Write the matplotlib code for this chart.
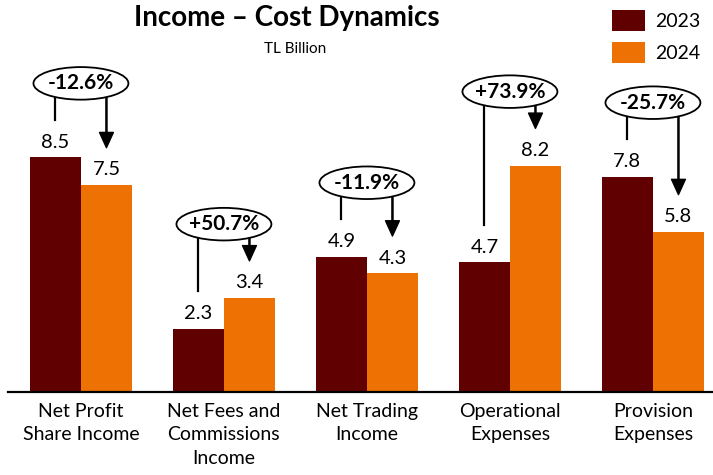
import matplotlib.pyplot as plt
from matplotlib.patches import Ellipse

plt.rcParams["font.family"] = ["Lato", "DejaVu Sans"]

categories = ["Net Profit\nShare Income", "Net Fees and\nCommissions\nIncome",
              "Net Trading\nIncome", "Operational\nExpenses", "Provision\nExpenses"]
values_2023 = [8.5, 2.3, 4.9, 4.7, 7.8]
values_2024 = [7.5, 3.4, 4.3, 8.2, 5.8]
changes = ["-12.6%", "+50.7%", "-11.9%", "+73.9%", "-25.7%"]

maroon = "#610000"
orange = "#EE7203"

fig = plt.figure(figsize=(7.13, 4.75), dpi=100)
ax = fig.add_axes([8 / 713, 83 / 475, 705 / 713, 392 / 475])

x = list(range(len(categories)))
w = 0.357
x1 = [i - w / 2 for i in x]
x2 = [i + w / 2 for i in x]
b1 = ax.bar(x1, values_2023, width=w, color=maroon, label="2023")
b2 = ax.bar(x2, values_2024, width=w, color=orange, label="2024")

ax.set_xlim(-0.51, 4.42)
ax.set_ylim(0, 14.2)

for xs, vals in ((x1, values_2023), (x2, values_2024)):
    for xi, v in zip(xs, vals):
        ax.annotate(f"{v:.1f}", (xi, v), xytext=(0, 7), textcoords="offset points",
                    ha="center", va="baseline", fontsize=14.5)

# change bubbles with connector and arrow
for i in x:
    v1, v2 = values_2023[i], values_2024[i]
    ey = max(v1, v2) + 2.68
    ax.plot([x1[i], x1[i]], [ey, v1 + 1.35], color="black", lw=1.6, zorder=3)
    ax.annotate("", xy=(x2[i], v2 + 1.35), xytext=(x2[i], ey),
                arrowprops=dict(facecolor="black", edgecolor="black", width=0.8,
                                headwidth=10, headlength=11, shrink=0), zorder=3)
    ax.add_patch(Ellipse((i, ey), 0.664, 1.18, facecolor="white",
                         edgecolor="black", lw=1.3, zorder=4))
    ax.text(i, ey, changes[i], ha="center", va="center", fontsize=15,
            fontweight="bold", zorder=5)

for s in ["left", "right", "top"]:
    ax.spines[s].set_visible(False)
ax.spines["bottom"].set_linewidth(1.6)
ax.set_yticks([])
ax.set_xticks(x)
ax.set_xticklabels(categories, fontsize=14, linespacing=1.45)
ax.tick_params(axis="x", length=0, pad=8)

fig.text(287 / 713, 1 - 18 / 475, "Income – Cost Dynamics", ha="center", va="center",
         fontsize=20, fontweight="bold")
fig.text(295 / 713, 1 - 49 / 475, "TL Billion", ha="center", va="center", fontsize=11)

fig.legend(handles=[b1, b2], loc="upper left", bbox_to_anchor=(612 / 713, 1 - 10 / 475),
           frameon=False, fontsize=14, handlelength=1.7, handleheight=1.3,
           handletextpad=0.5, labelspacing=0.55, borderpad=0, borderaxespad=0)

fig.savefig("out.png", dpi=100)
